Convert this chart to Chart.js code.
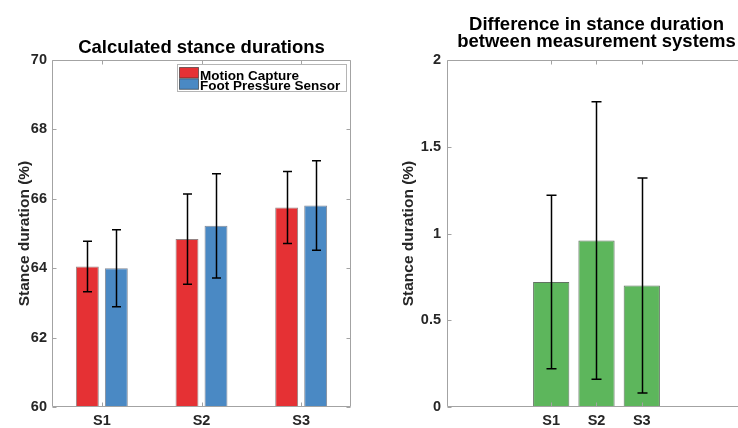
<!DOCTYPE html>
<html>
<head>
<meta charset="utf-8">
<script src="https://cdn.jsdelivr.net/npm/chart.js@4.4.1/dist/chart.umd.min.js"></script>
<style>
    html, body { margin: 0; padding: 0; background: #fff; overflow: hidden; }
    #wrap { position: relative; width: 738px; height: 428px; overflow: hidden; }
    canvas { position: absolute; top: 0; }
    #leftChart { left: 0; }
    #rightChart { left: 369px; }
</style>
</head>
<body>
<div id="wrap">
    <canvas id="leftChart" width="369" height="428"></canvas>
    <canvas id="rightChart" width="392" height="428"></canvas>
</div>
<script>
// Subjects
const subjects = ["S1", "S2", "S3"];
const subjectPos = [1, 2, 3];

// Stance duration (%) per system: mean and SD
const mocapMean = [64.05, 64.84, 65.75];
const mocapSD = [0.73, 1.30, 1.04];
const fpsMean = [64.00, 65.22, 65.81];
const fpsSD = [1.11, 1.50, 1.29];

// Difference between the two systems (%)
const diffMean = [0.72, 0.96, 0.70];
const diffSD = [0.50, 0.80, 0.62];

const leftTicks = [60, 62, 64, 66, 68, 70];
const rightTicks = [0, 0.5, 1, 1.5, 2];

const FONT = '"Liberation Sans", Arial, Helvetica, sans-serif';
const AXIS_GREY = "#a3a3a3";
const TEXT_DARK = "#262626";

Chart.defaults.font.family = FONT;
Chart.defaults.color = TEXT_DARK;

// Box around the axes + short inward ticks, matlab style
function framePlugin(xValues, yValues) {
    return {
        id: "frame",
        afterDatasetsDraw(chart) {
            const ctx = chart.ctx;
            const a = chart.chartArea;
            const xs = chart.scales.x, ys = chart.scales.y;
            const L = Math.round(a.left) + 0.5, R = Math.round(a.right) - 0.5;
            const T = Math.round(a.top) + 0.5, B = Math.round(a.bottom) - 0.5;
            const len = 4;
            ctx.save();
            ctx.strokeStyle = AXIS_GREY;
            ctx.lineWidth = 1;
            ctx.beginPath();
            ctx.rect(L, T, R - L, B - T);
            yValues.forEach(v => {
                const py = Math.round(ys.getPixelForValue(v)) + 0.5;
                ctx.moveTo(L, py); ctx.lineTo(L + len, py);
                ctx.moveTo(R, py); ctx.lineTo(R - len, py);
            });
            xValues.forEach((v, i) => {
                const px = Math.round(xs.type === "category" ? xs.getPixelForTick(i) : xs.getPixelForValue(v)) + 0.5;
                ctx.moveTo(px, B); ctx.lineTo(px, B - len);
                ctx.moveTo(px, T); ctx.lineTo(px, T + len);
            });
            ctx.stroke();
            ctx.restore();
        }
    };
}

// Mean +/- SD whiskers on each bar
function errorBarPlugin(sets, capHalf) {
    return {
        id: "errorBars",
        afterDatasetsDraw(chart) {
            const ctx = chart.ctx;
            const ys = chart.scales.y;
            ctx.save();
            ctx.strokeStyle = "#000";
            ctx.lineWidth = 1.5;
            sets.forEach((s, di) => {
                chart.getDatasetMeta(di).data.forEach((bar, i) => {
                    const x = Math.round(bar.x) + 0.5;
                    const hi = ys.getPixelForValue(s.mean[i] + s.sd[i]);
                    const lo = ys.getPixelForValue(s.mean[i] - s.sd[i]);
                    ctx.beginPath();
                    ctx.moveTo(x, hi); ctx.lineTo(x, lo);
                    ctx.moveTo(x - capHalf, hi); ctx.lineTo(x + capHalf, hi);
                    ctx.moveTo(x - capHalf, lo); ctx.lineTo(x + capHalf, lo);
                    ctx.stroke();
                });
            });
            ctx.restore();
        }
    };
}

// Title lines centred over the plot area
function titlePlugin(lines, baselines) {
    return {
        id: "plotTitle",
        afterDraw(chart) {
            const ctx = chart.ctx;
            const a = chart.chartArea;
            const cx = (a.left + a.right) / 2;
            ctx.save();
            ctx.fillStyle = "#000";
            ctx.font = "bold 18.5px " + FONT;
            ctx.textAlign = "center";
            ctx.textBaseline = "alphabetic";
            lines.forEach((t, i) => ctx.fillText(t, cx, baselines[i]));
            ctx.restore();
        }
    };
}

// Legend box in the upper right corner of the plot
const legendPlugin = {
    id: "innerLegend",
    afterDraw(chart) {
        const ctx = chart.ctx;
        const a = chart.chartArea;
        const w = 169, h = 27;
        const x0 = Math.round(a.right - 5 - w) + 0.5, y0 = Math.round(a.top + 4) + 0.5;
        ctx.save();
        ctx.fillStyle = "#fff";
        ctx.strokeStyle = "#b5b5b5";
        ctx.lineWidth = 1;
        ctx.fillRect(x0, y0, w, h);
        ctx.strokeRect(x0, y0, w, h);
        ctx.font = "bold 13.5px " + FONT;
        ctx.textBaseline = "alphabetic";
        chart.data.datasets.forEach((ds, i) => {
            const sy = y0 + 3 + i * 11.3;
            ctx.fillStyle = ds.backgroundColor;
            ctx.fillRect(x0 + 2, sy, 19, 10.5);
            ctx.strokeStyle = "rgba(40,40,40,0.6)";
            ctx.strokeRect(x0 + 2, sy, 19, 10.5);
            ctx.fillStyle = "#000";
            ctx.fillText(ds.label, x0 + 22.5, y0 + 15 + i * 10.8);
        });
        ctx.restore();
    }
};

const tickFont = { size: 14.5, weight: "bold" };
const yTitle = (pad) => ({
    display: true,
    text: "Stance duration (%)",
    color: TEXT_DARK,
    font: { size: 15.5, weight: "bold" },
    padding: { top: pad, bottom: 0 }
});
const noGrid = { display: false, drawTicks: false };

// Left: stance durations per system
new Chart(document.getElementById("leftChart"), {
    type: "bar",
    data: {
        labels: subjects,
        datasets: [
            {
                label: "Motion Capture",
                data: mocapMean,
                backgroundColor: "#e53134",
                borderColor: "rgba(60,30,30,0.55)",
                borderWidth: 1,
                categoryPercentage: 0.582,
                barPercentage: 0.79
            },
            {
                label: "Foot Pressure Sensor",
                data: fpsMean,
                backgroundColor: "#4a89c4",
                borderColor: "rgba(30,40,60,0.55)",
                borderWidth: 1,
                categoryPercentage: 0.582,
                barPercentage: 0.79
            }
        ]
    },
    options: {
        responsive: false,
        animation: false,
        layout: { padding: { top: 60, right: 18, bottom: 0, left: 0 } },
        plugins: { legend: { display: false }, tooltip: { enabled: false } },
        scales: {
            x: {
                grid: noGrid,
                border: { display: false },
                ticks: { font: tickFont, color: TEXT_DARK, padding: 5 },
                afterFit(s) { s.height = 21; }
            },
            y: {
                min: 60,
                max: 70,
                grid: noGrid,
                border: { display: false },
                ticks: { font: tickFont, color: TEXT_DARK, padding: 5, callback: v => String(v) },
                afterBuildTicks(s) { s.ticks = leftTicks.map(v => ({ value: v })); },
                afterFit(s) { s.width = 52; },
                title: yTitle(15)
            }
        }
    },
    plugins: [
        framePlugin(subjects, leftTicks),
        errorBarPlugin([{ mean: mocapMean, sd: mocapSD }, { mean: fpsMean, sd: fpsSD }], 4.5),
        titlePlugin(["Calculated stance durations"], [53]),
        legendPlugin
    ]
});

// Right: difference between the systems
new Chart(document.getElementById("rightChart"), {
    type: "bar",
    data: {
        datasets: [{
            label: "Difference",
            data: diffMean.map((v, i) => ({ x: subjectPos[i], y: v })),
            backgroundColor: "#5db65c",
            borderColor: "rgba(45,70,45,0.75)",
            borderWidth: 1,
            categoryPercentage: 1,
            barPercentage: 0.8
        }]
    },
    options: {
        responsive: false,
        animation: false,
        layout: { padding: { top: 60, right: 15, bottom: 0, left: 0 } },
        plugins: { legend: { display: false }, tooltip: { enabled: false } },
        scales: {
            x: {
                type: "linear",
                min: -0.2,
                max: 4.2,
                grid: noGrid,
                border: { display: false },
                ticks: {
                    font: tickFont,
                    color: TEXT_DARK,
                    padding: 5,
                    callback: v => subjects[subjectPos.indexOf(v)] || ""
                },
                afterBuildTicks(s) { s.ticks = subjectPos.map(v => ({ value: v })); },
                afterFit(s) { s.height = 21; }
            },
            y: {
                min: 0,
                max: 2,
                grid: noGrid,
                border: { display: false },
                ticks: { font: tickFont, color: TEXT_DARK, padding: 6, callback: v => String(v) },
                afterBuildTicks(s) { s.ticks = rightTicks.map(v => ({ value: v })); },
                afterFit(s) { s.width = 78; },
                title: yTitle(30)
            }
        }
    },
    plugins: [
        framePlugin(subjectPos, rightTicks),
        errorBarPlugin([{ mean: diffMean, sd: diffSD }], 5),
        titlePlugin(["Difference in stance duration", "between measurement systems"], [29.5, 47])
    ]
});
</script>
</body>
</html>
